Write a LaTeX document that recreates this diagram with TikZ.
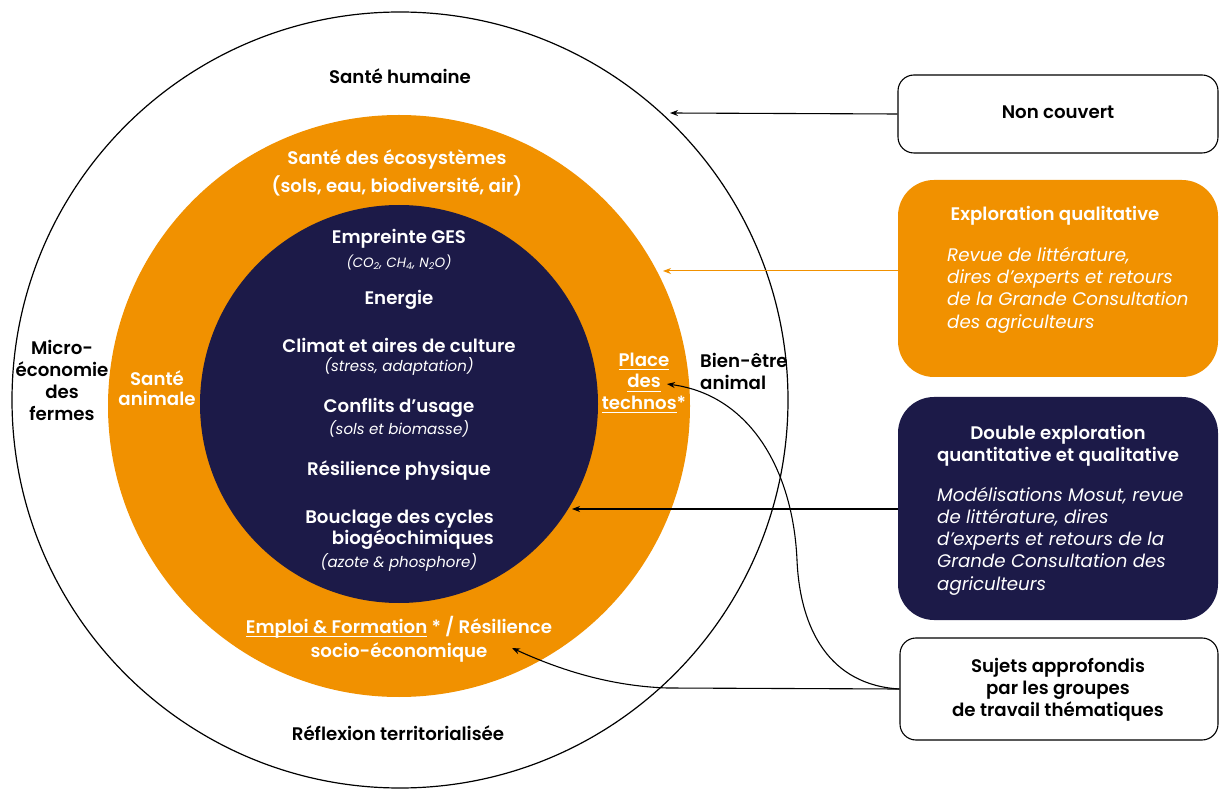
\documentclass[tikz,border=0pt]{standalone}
\usepackage{fontspec}
\setmainfont{Poppins}[BoldFont={Poppins SemiBold}]
\usetikzlibrary{arrows.meta}
\definecolor{orng}{RGB}{241,145,0}
\definecolor{navy}{RGB}{28,26,72}
\newcommand\ulx[1]{\setbox0\hbox{#1}\rlap{\rule[-4pt]{\wd0}{1.2pt}}\box0\relax}
\begin{document}
\begin{tikzpicture}[x=1pt,y=-1pt,
  lbl/.style={font=\bfseries\fontsize{18.2}{22}\selectfont, align=center, inner sep=0},
  sub/.style={font=\itshape\fontsize{15}{18}\selectfont, align=center, inner sep=0},
  body/.style={font=\itshape\fontsize{18.2}{22.3}\selectfont, align=left, inner sep=0, anchor=west},
  ring/.style={circle, inner sep=0, minimum size=#1},
  wbox/.style={draw=black, line width=1.1pt, fill=white, rounded corners=16pt, minimum width=320pt, inner sep=0},
  cbox/.style={rounded corners=36pt, minimum width=320pt, inner sep=0},
  conn/.style={line width=1.1pt, -{Stealth[length=8pt,width=6pt]}},
]
\useasboundingbox (0,0) rectangle (1219,791);
% circles
\node[ring=776pt, draw=black, line width=1.2pt, fill=white] (outer) at (400,400) {};
\node[ring=582pt, fill=orng] (orange) at (399,406) {};
\node[ring=398pt, fill=navy] (core) at (399,404) {};

% white zone labels
\node[lbl] (sh) at (400,76) {Santé humaine};
\node[lbl] (micro) at (62,380) {Micro-\\économie\\des\\fermes};
\node[lbl, align=left, anchor=west] (bea) at (700,371) {Bien-être\\animal};
\node[lbl] (refl) at (398,733) {Réflexion territorialisée};

% orange ring labels
\begin{scope}[every node/.append style={text=white}]
\node[lbl, font=\bfseries\fontsize{18.2}{28}\selectfont] (eco) at (397,173) {Santé des écosystèmes\\(sols, eau, biodiversité, air)};
\node[lbl, font=\bfseries\fontsize{18.2}{20}\selectfont] (sa) at (157,388) {Santé\\animale};
\node[lbl, font=\bfseries\fontsize{18.2}{21.5}\selectfont] (tech) at (644,383) {\ulx{Place}\\\ulx{des}\\\ulx{technos}*};
\node[lbl, font=\bfseries\fontsize{18.2}{24}\selectfont] (emploi) at (399,639) {\ulx{Emploi \& Formation} * / Résilience\\socio-économique};

% core labels
\node[lbl] (ges) at (399,239) {Empreinte GES};
\node[sub, font=\itshape\fontsize{13.5}{15}\selectfont] (gess) at (399,262) {(CO\textsubscript{2}, CH\textsubscript{4}, N\textsubscript{2}O)};
\node[lbl] (ener) at (399,300) {Energie};
\node[lbl] (clim) at (399,345) {Climat et aires de culture};
\node[sub] (clims) at (399,366) {(stress, adaptation)};
\node[lbl] (conf) at (399,408) {Conflits d’usage};
\node[sub] (confs) at (399,429) {(sols et biomasse)};
\node[lbl] (resil) at (399,470) {Résilience physique};
\node[lbl, align=right, anchor=east, font=\bfseries\fontsize{18.2}{21}\selectfont] (boucl) at (494,530) {Bouclage des cycles\\biogéochimiques};
\node[sub] (boucls) at (399,562) {(azote \& phosphore)};
\end{scope}

% right boxes
\node[wbox, minimum height=78pt] (nc) at (1058,114) {};
\node[lbl] (nct) at (1058,112) {Non couvert};

\node[cbox, fill=orng, minimum height=197pt] (eq) at (1058,278.5) {};
\node[lbl, text=white] (eqt) at (1055,216) {Exploration qualitative};
\node[body, text=white] (eqb) at (947,290) {Revue de littérature,\\dires d’experts et retours\\de la Grande Consultation\\des agriculteurs};

\node[cbox, fill=navy, minimum height=223pt] (dq) at (1058,508.5) {};
\node[lbl, text=white] (dqt) at (1058,446) {Double exploration\\quantitative et qualitative};
\node[body, text=white] (dqb) at (937,541) {Modélisations Mosut, revue\\de littérature, dires\\d’experts et retours de la\\Grande Consultation des\\agriculteurs};

\node[wbox, minimum width=318pt, minimum height=102pt] (sj) at (1059,689) {};
\node[lbl] (sjt) at (1058,690) {Sujets approfondis\\par les groupes\\de travail thématiques};

% connector end points
\coordinate (e1) at (670,113);
\coordinate (e2) at (663,271);
\coordinate (e3) at (572,509);
\coordinate (e4) at (512,648);
\coordinate (e5) at (667,384);
\coordinate (k4) at (667,688);
\coordinate (k5) at (797,560);

\draw[conn] (nc.west) -- (e1);
\draw[conn, draw=orng, line width=1pt] (eq.west |- e2) -- (e2);
\draw[conn] (dq.west |- e3) -- (e3);
\draw[conn] (sj.west) -- (k4) .. controls (610,686) and (560,670) .. (e4);
\draw[conn] (sj.west) .. controls (830,685) and (800,630) .. (k5) .. controls (793,470) and (750,395) .. (e5);
\end{tikzpicture}
\end{document}
